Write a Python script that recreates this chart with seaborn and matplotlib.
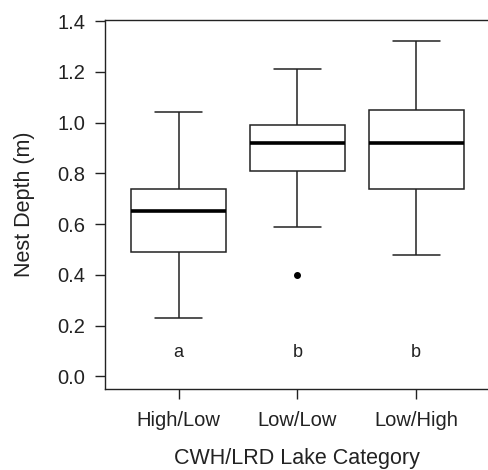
import numpy as np
import pandas as pd
import matplotlib
matplotlib.use("Agg")
import matplotlib.pyplot as plt
import seaborn as sns

# Values
categories = ["High/Low", "Low/Low", "Low/High"]
whisker_low = [0.23, 0.59, 0.48]
q1 = [0.49, 0.81, 0.74]
median = [0.65, 0.92, 0.92]
q3 = [0.74, 0.99, 1.05]
whisker_high = [1.04, 1.21, 1.32]
outliers = [[], [0.40], []]
letters = ["a", "b", "b"]

# Build a sample per group that reproduces the five-number summary
rows = []
for i, cat in enumerate(categories):
    vals = list(np.repeat([whisker_low[i], q1[i], median[i], q3[i], whisker_high[i]], 4))
    vals += outliers[i]
    rows += [(cat, v) for v in vals]
df = pd.DataFrame(rows, columns=["category", "depth"])

sns.set_style("ticks")
plt.rcParams["font.family"] = ["Liberation Sans", "DejaVu Sans"]

ink = "#222222"
fig = plt.figure(figsize=(4.88, 4.70), dpi=100)
ax = fig.add_axes([0.215, 0.1723, 0.789, 0.7851])

sns.boxplot(data=df, x="category", y="depth", order=categories, ax=ax,
            width=0.8, color="white", linecolor=ink, linewidth=1.1, whis=1.5,
            medianprops=dict(color="black", linewidth=2.6),
            flierprops=dict(marker="o", markerfacecolor="black",
                            markeredgecolor="black", markersize=4))

# significance letters under each box
for i, lab in enumerate(letters):
    ax.text(i, 0.095, lab, ha="center", va="center", fontsize=13, color=ink)

ax.set_xlim(-0.62, 2.62)
ax.set_ylim(-0.05, 1.404)
ax.set_yticks([0.0, 0.2, 0.4, 0.6, 0.8, 1.0, 1.2, 1.4])
ax.set_yticklabels(["0.0", "0.2", "0.4", "0.6", "0.8", "1.0", "1.2", "1.4"])
ax.tick_params(axis="both", length=7, width=1.0, color=ink, labelsize=14.5,
               labelcolor=ink)
ax.tick_params(axis="x", pad=9)
ax.tick_params(axis="y", pad=7)
for s in ax.spines.values():
    s.set_color(ink)
    s.set_linewidth(1.0)

ax.set_xlabel("CWH/LRD Lake Category", fontsize=15.5, color=ink, labelpad=13)
ax.set_ylabel("Nest Depth (m)", fontsize=15.5, color=ink, labelpad=16)

fig.savefig("out.png", dpi=100)
